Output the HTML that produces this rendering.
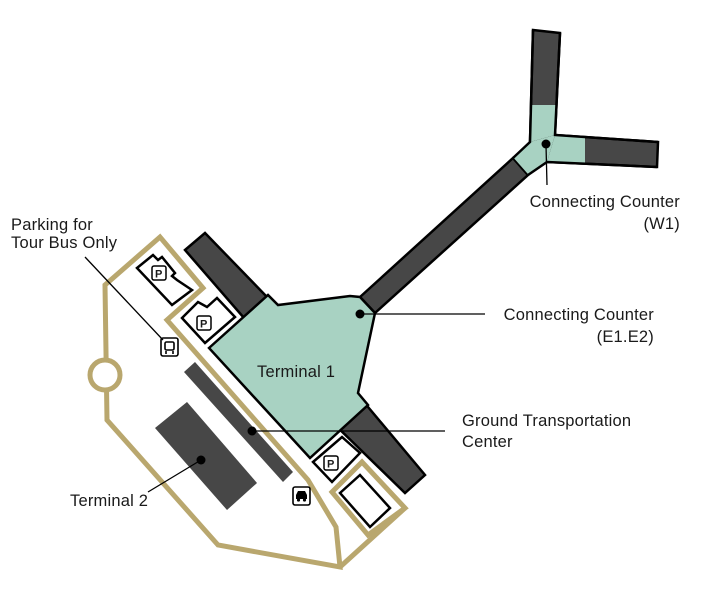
<!DOCTYPE html>
<html><head><meta charset="utf-8"><style>
html,body{margin:0;padding:0;background:#fff;}
svg{display:block;}
text{font-family:"Liberation Sans",sans-serif;font-size:16.5px;letter-spacing:0.2px;fill:#1a1a1a;}
</style></head><body>
<svg width="705" height="596" viewBox="0 0 705 596" xmlns="http://www.w3.org/2000/svg">
<g fill="#474747" stroke="#000" stroke-width="2.5" stroke-linejoin="miter">
  <polygon points="185,250 205,233 268,298 244,318"/>
  <polygon points="330,420 358,395 425,475 405,493"/>
  <polygon points="360,297 513,158 528,175 375,313"/>
  <polygon points="533,30 560,33 555,135 530,142"/>
  <polygon points="555,135 658,142 657,167 547,162"/>
</g>
<g fill="#a8d2c2">
  <polygon points="531,105 557,105 555,135 530,142"/>
  <polygon points="555,135 585,137 585,164 547,162"/>
  <polygon points="530,142 555,135 547,162 528,175 513,158"/>
</g>
<g fill="none" stroke="#000" stroke-width="2.5">
  <polyline points="533,30 530,142 513,158"/>
  <polyline points="560,33 555,135 658,142"/>
  <polyline points="528,175 547,162 657,167"/>
  <line x1="513" y1="158" x2="528" y2="175" stroke-width="1.2"/>
</g>
<polygon points="209,348 268,295 278,305 350,296 360,297 375,313 358,393 368,405 310,458" fill="#a8d2c2" stroke="#000" stroke-width="2.5" stroke-linejoin="miter"/>
<line x1="360" y1="297" x2="375" y2="313" stroke="#000" stroke-width="1.2"/>
<g fill="#474747">
  <polygon points="155,428 187,402 257,483 227,510"/>
  <polygon points="184,372 195,362 293,472 283,482"/>
</g>
<g fill="none" stroke="#b9a76e" stroke-width="5" stroke-linejoin="miter">
  <polygon points="105,285 160,237 203,288 167,320 308,480 336,527 340,567 218,545 107,420"/>
  <polygon points="362,462 405,508 368,535 332,492"/>
  <polyline points="405,508 340,567"/>
</g>
<circle cx="105" cy="375" r="15" fill="#fff" stroke="#b9a76e" stroke-width="5"/>
<g fill="#fff" stroke="#000" stroke-width="2.5" stroke-linejoin="miter">
  <polygon points="137,268 153,255 158,260 162,257 175,273 172,276 177,280 192,290 172,305"/>
  <polygon points="182,318 198,302 207,307 217,298 235,317 205,343"/>
  <polygon points="313,462 342,437 360,453 332,482"/>
  <polygon points="340,493 360,475 390,508 370,527"/>
</g>
<g>
  <rect x="152" y="266" width="14" height="14" rx="2" fill="#fff" stroke="#000" stroke-width="1.5"/>
  <text x="155" y="277.5" style="font-size:11px;font-weight:bold;letter-spacing:0">P</text>
  <rect x="197" y="316" width="14" height="14" rx="2" fill="#fff" stroke="#000" stroke-width="1.5"/>
  <text x="200" y="327.5" style="font-size:11px;font-weight:bold;letter-spacing:0">P</text>
  <rect x="324" y="456" width="14" height="14" rx="2" fill="#fff" stroke="#000" stroke-width="1.5"/>
  <text x="327" y="467.5" style="font-size:11px;font-weight:bold;letter-spacing:0">P</text>
</g>
<rect x="161" y="338" width="17" height="18" rx="2" fill="#fff" stroke="#000" stroke-width="1.6"/>
<rect x="165" y="342" width="9" height="8" rx="1.5" fill="none" stroke="#000" stroke-width="1.6"/>
<line x1="166" y1="351" x2="166" y2="354" stroke="#000" stroke-width="1.6"/>
<line x1="173" y1="351" x2="173" y2="354" stroke="#000" stroke-width="1.6"/>
<rect x="293" y="487" width="17" height="18" rx="2" fill="#fff" stroke="#000" stroke-width="1.6"/>
<path d="M296,499 L296,495 L298,491 L305,491 L307,495 L307,499 Z" fill="#000"/>
<circle cx="298.5" cy="500" r="1.6" fill="#000"/><circle cx="304.5" cy="500" r="1.6" fill="#000"/>
<g stroke="#000" stroke-width="1.3" fill="none">
  <line x1="85" y1="257" x2="163" y2="340"/>
  <line x1="148" y1="492" x2="201" y2="460"/>
  <line x1="252" y1="431" x2="445" y2="431"/>
  <line x1="360" y1="314" x2="485" y2="314"/>
  <line x1="546" y1="145" x2="547" y2="185"/>
</g>
<g fill="#000">
  <circle cx="201" cy="460" r="4.5"/>
  <circle cx="252" cy="431" r="4.5"/>
  <circle cx="360" cy="314" r="4.5"/>
  <circle cx="546" cy="144" r="4.5"/>
</g>
<text x="11" y="230">Parking for</text>
<text x="11" y="248">Tour Bus Only</text>
<text x="257" y="377">Terminal 1</text>
<text x="70" y="506">Terminal 2</text>
<text x="462" y="426">Ground Transportation</text>
<text x="462" y="447">Center</text>
<text x="654" y="320" text-anchor="end">Connecting Counter</text>
<text x="654" y="342" text-anchor="end">(E1.E2)</text>
<text x="680" y="207" text-anchor="end">Connecting Counter</text>
<text x="680" y="229" text-anchor="end">(W1)</text>
</svg>
</body></html>
